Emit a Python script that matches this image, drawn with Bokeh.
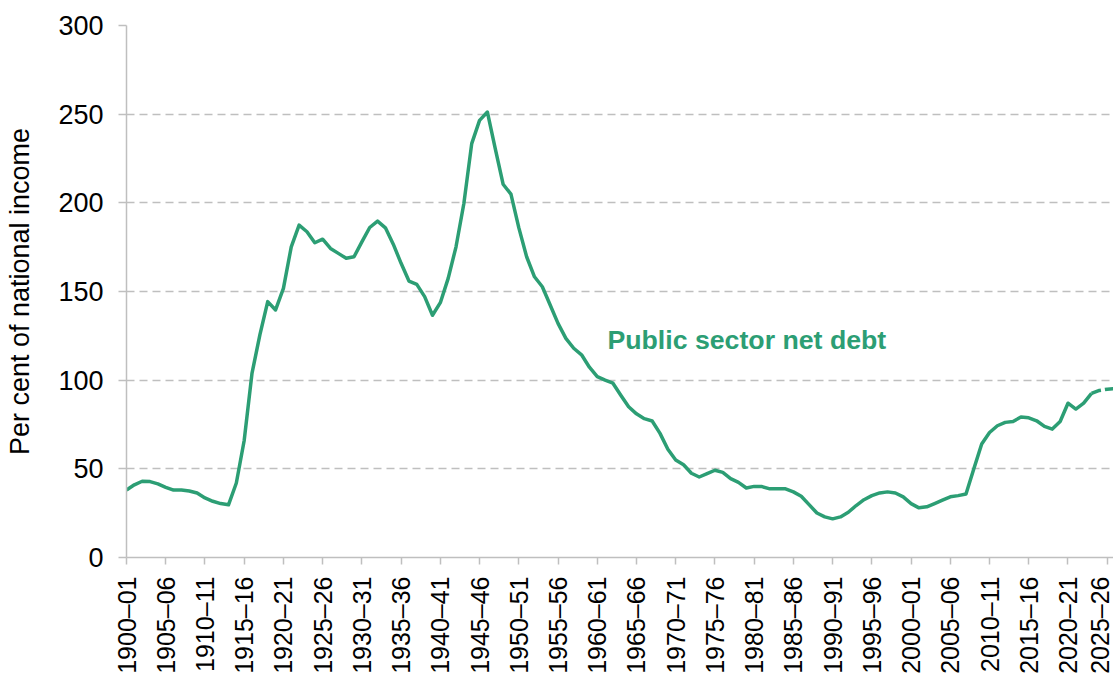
from bokeh.plotting import figure
from bokeh.models import Range1d, FixedTicker, ColumnDataSource
from bokeh.embed import file_html
from bokeh.resources import INLINE
from bokeh.core.properties import value

# Fiscal years (start year of each fiscal year, e.g. 1900 -> 1900-01)
fiscal_year = list(range(1900, 2027))

# Public sector net debt, per cent of national income
debt_pct = [
    38.0, 41.0, 43.0, 42.8, 41.5, 39.6, 38.0, 38.1, 37.5, 36.4,      # 1900-1909
    33.6, 31.7, 30.4, 29.7, 42.0, 66.0, 104.0, 125.5, 144.3, 139.6,  # 1910-1919
    151.8, 175.2, 187.4, 183.7, 177.5, 179.5, 174.3, 171.5, 168.7, 169.6,  # 1920s
    178.0, 186.1, 189.7, 185.9, 176.7, 165.9, 155.9, 154.0, 147.1, 136.6,  # 1930s
    143.7, 157.4, 175.2, 199.6, 233.4, 246.5, 251.2, 230.6, 210.5, 204.9,  # 1940s
    186.0, 169.6, 158.3, 152.7, 142.4, 132.0, 123.6, 118.0, 114.3, 107.3,  # 1950s
    102.0, 100.0, 98.3, 91.5, 85.0, 81.0, 78.3, 77.0, 70.0, 61.0,    # 1960s
    55.0, 52.3, 47.5, 45.4, 47.3, 49.2, 48.0, 44.5, 42.4, 39.2,      # 1970s
    40.1, 40.0, 38.7, 38.7, 38.7, 37.0, 34.5, 29.8, 25.1, 22.9,      # 1980s
    21.8, 22.9, 25.5, 29.3, 32.6, 34.9, 36.4, 37.0, 36.4, 34.2,      # 1990s
    30.4, 28.0, 28.6, 30.4, 32.3, 34.2, 34.9, 35.8, 50.0, 64.0,      # 2000s
    70.5, 74.3, 76.2, 76.7, 79.2, 78.8, 77.1, 73.9, 72.4, 76.7,      # 2010s
    87.0, 83.7, 87.0, 92.5, 94.2, 94.9, 95.2,                        # 2020s
]

forecast_from = 2023  # first forecast year (dashed from here)

tick_years = [1900, 1905, 1910, 1915, 1920, 1925, 1930, 1935, 1940, 1945,
              1950, 1955, 1960, 1965, 1970, 1975, 1980, 1985, 1990, 1995,
              2000, 2005, 2010, 2015, 2020, 2025]
tick_labels = ["1900–01", "1905–06", "1910–11", "1915–16", "1920–21", "1925–26",
               "1930–31", "1935–36", "1940–41", "1945–46", "1950–51", "1955–56",
               "1960–61", "1965–66", "1970–71", "1975–76", "1980–81", "1985–86",
               "1990–91", "1995–96", "2000–01", "2005–06", "2010–11", "2015–16",
               "2020–21", "2025–26"]
y_ticks = [0, 50, 100, 150, 200, 250, 300]

series_label = "Public sector net debt"
series_label_pos = (1961.3, 122.7)

GREEN = "#2C9E74"
GREY = "#BFBFBF"
FONT = "Liberation Sans"

outturn = ColumnDataSource(dict(
    x=[x for x in fiscal_year if x <= forecast_from],
    y=[v for x, v in zip(fiscal_year, debt_pct) if x <= forecast_from]))
forecast = ColumnDataSource(dict(
    x=[x for x in fiscal_year if x >= forecast_from],
    y=[v for x, v in zip(fiscal_year, debt_pct) if x >= forecast_from]))

p = figure(width=1113, height=676, output_backend="svg", toolbar_location=None,
           x_range=Range1d(1900, 2025.8), y_range=Range1d(0, 300),
           min_border_left=126, min_border_right=0, min_border_top=25,
           min_border_bottom=118)
p.outline_line_color = None
p.background_fill_color = "white"
p.border_fill_color = "white"

p.line("x", "y", source=outturn, line_color=GREEN, line_width=3.5, line_join="round")
p.line("x", "y", source=forecast, line_color=GREEN, line_width=3.5, line_dash="10 4")

p.text(x=[series_label_pos[0]], y=[series_label_pos[1]], text=[series_label],
       text_color=GREEN, text_font=value(FONT), text_font_size="26.7px",
       text_font_style="bold", text_align="left", text_baseline="middle")

# grid
p.xgrid.visible = False
p.ygrid.grid_line_color = GREY
p.ygrid.grid_line_dash = "8 5"
p.ygrid.grid_line_width = 1.5
p.ygrid.ticker = FixedTicker(ticks=y_ticks)

# x axis
xa = p.xaxis[0]
xa.ticker = FixedTicker(ticks=tick_years)
xa.major_label_overrides = {t: l for t, l in zip(tick_years, tick_labels)}
xa.major_label_orientation = 3.14159265 / 2
xa.major_label_text_font = FONT
xa.major_label_text_font_size = "25px"
xa.major_label_text_color = "black"
xa.major_label_standoff = 12
xa.major_tick_out = 7
xa.major_tick_in = 0
xa.minor_tick_out = 0
xa.minor_tick_in = 0
xa.axis_line_color = GREY
xa.axis_line_width = 1.5
xa.major_tick_line_color = GREY
xa.major_tick_line_width = 1.5

# y axis
ya = p.yaxis[0]
ya.ticker = FixedTicker(ticks=y_ticks)
ya.major_label_text_font = FONT
ya.major_label_text_font_size = "27px"
ya.major_label_text_color = "black"
ya.major_label_standoff = 15
ya.major_tick_out = 8
ya.major_tick_in = 0
ya.minor_tick_out = 0
ya.minor_tick_in = 0
ya.axis_line_color = GREY
ya.axis_line_width = 1.5
ya.major_tick_line_color = GREY
ya.major_tick_line_width = 1.5
ya.axis_label = "Per cent of national income"
ya.axis_label_text_font = FONT
ya.axis_label_text_font_size = "27px"
ya.axis_label_text_font_style = "normal"
ya.axis_label_text_color = "black"
ya.axis_label_standoff = 20

open("out.html", "w").write(file_html(p, INLINE))
